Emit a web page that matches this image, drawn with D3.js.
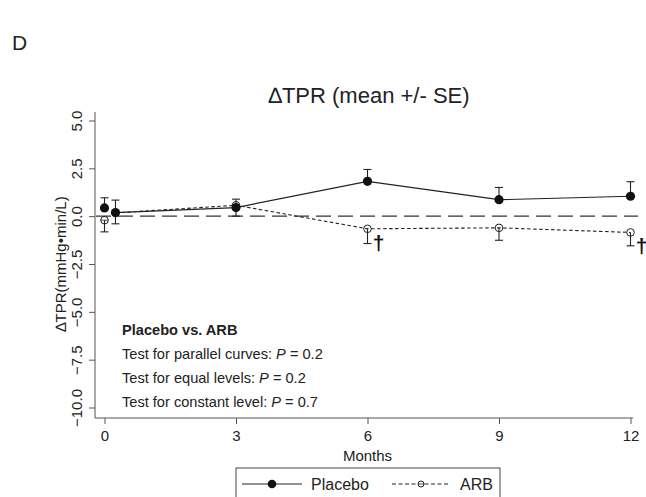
<!DOCTYPE html>
<html>
<head>
<meta charset="utf-8">
<script src="https://cdn.jsdelivr.net/npm/d3@7"></script>
<style>
  html, body { margin: 0; padding: 0; background: #fff; }
  svg { display: block; font-family: "Liberation Sans", Arial, sans-serif; }
</style>
</head>
<body>
<svg id="chart" width="646" height="497"></svg>
<script>
// Follow-up months (baseline at month 0 is drawn as separate, unconnected markers)
const months = [0.25, 3, 6, 9, 12];
const placeboMean = [0.19, 0.45, 1.82, 0.86, 1.04];
const placeboSE   = [0.65, 0.44, 0.62, 0.64, 0.76];
const arbMean     = [0.17, 0.57, -0.66, -0.61, -0.85];
const arbSE       = [0.57, 0.57, 0.77, 0.65, 0.70];
// Baseline points at month 0
const baselineMonth = 0;
const placeboBase = { mean: 0.43, se: 0.53 };
const arbBase = { mean: -0.21, se: 0.61 };
// Months flagged with a dagger (ARB)
const daggerMonths = [6, 12];
const xTicks = [0, 3, 6, 9, 12];
const yTicks = [5, 2.5, 0, -2.5, -5, -7.5, -10];
const testLines = [
  ["Test for parallel curves: ", "0.2"],
  ["Test for equal levels: ", "0.2"],
  ["Test for constant level: ", "0.7"]
];

const svg = d3.select("#chart");
const ink = "#222";
const axisCol = "#555";

const x = d3.scaleLinear().domain([0, 12]).range([104.5, 630.5]);
const y = d3.scaleLinear().domain([-10, 5]).range([407.5, 120.5]);

// Panel letter and title
svg.append("text").attr("x", 12).attr("y", 50).attr("font-size", 21).attr("fill", ink).text("D");
svg.append("text").attr("x", 369).attr("y", 103).attr("text-anchor", "middle")
  .attr("font-size", 22).attr("fill", ink).text("\u2206TPR (mean +/- SE)");

// Y axis
const yAxis = svg.append("g").attr("transform", "translate(95,0)")
  .call(d3.axisLeft(y).tickValues(yTicks).tickSize(6).tickFormat(d3.format(".1f")));
yAxis.select(".domain").attr("d", "M0,112V418").attr("stroke", axisCol);
yAxis.selectAll(".tick line").attr("stroke", axisCol);
yAxis.selectAll(".tick text")
  .attr("font-size", 15).attr("fill", ink)
  .attr("transform", "rotate(-90)").attr("x", 0).attr("y", -13)
  .attr("dy", 0).attr("text-anchor", "middle");

// X axis
const xAxis = svg.append("g").attr("transform", "translate(0,418)")
  .call(d3.axisBottom(x).tickValues(xTicks).tickSize(6).tickFormat(d3.format("d")));
xAxis.select(".domain").attr("d", "M95,0H633").attr("stroke", axisCol);
xAxis.selectAll(".tick line").attr("stroke", axisCol);
xAxis.selectAll(".tick text").attr("font-size", 15).attr("fill", ink).attr("y", 12);

svg.append("text").attr("x", x(6)).attr("y", 461).attr("text-anchor", "middle")
  .attr("font-size", 15).attr("fill", ink).text("Months");

svg.append("text")
  .attr("transform", `translate(66,${y(-2.5)}) rotate(-90)`)
  .attr("text-anchor", "middle").attr("font-size", 15).attr("fill", ink)
  .text("\u2206TPR(mmHg\u2022min/L)");

// Zero reference line
svg.append("line").attr("x1", 96).attr("x2", 638).attr("y1", y(0)).attr("y2", y(0))
  .attr("stroke", "#333").attr("stroke-width", 1.2).attr("stroke-dasharray", "15,7");

const placebo = months.map((m, i) => ({ m, v: placeboMean[i], se: placeboSE[i] }));
const arb = months.map((m, i) => ({ m, v: arbMean[i], se: arbSE[i] }));
const line = d3.line().x(d => x(d.m)).y(d => y(d.v));

// Error whiskers: placebo upward, ARB downward
function whisker(g, d, dir) {
  const y1 = y(d.v), y2 = y(d.v + dir * d.se);
  g.append("line").attr("x1", x(d.m)).attr("x2", x(d.m)).attr("y1", y1).attr("y2", y2)
    .attr("stroke", "#222").attr("stroke-width", 1.1);
  g.append("line").attr("x1", x(d.m) - 4).attr("x2", x(d.m) + 4).attr("y1", y2).attr("y2", y2)
    .attr("stroke", "#222").attr("stroke-width", 1.1);
}
const marks = svg.append("g");
[{ m: baselineMonth, v: arbBase.mean, se: arbBase.se }, ...arb].forEach(d => whisker(marks, d, -1));
[{ m: baselineMonth, v: placeboBase.mean, se: placeboBase.se }, ...placebo].forEach(d => whisker(marks, d, 1));

// ARB series
marks.append("path").datum(arb).attr("d", line).attr("fill", "none")
  .attr("stroke", "#222").attr("stroke-width", 1.1).attr("stroke-dasharray", "3.5,2.5");
marks.selectAll(".arbpt").data([{ m: baselineMonth, v: arbBase.mean }, ...arb]).enter()
  .append("circle").attr("cx", d => x(d.m)).attr("cy", d => y(d.v)).attr("r", 3.8)
  .attr("fill", "none").attr("stroke", "#222").attr("stroke-width", 1);
marks.selectAll(".arbtick").data([{ m: baselineMonth, v: arbBase.mean }]).enter()
  .append("line").attr("x1", d => x(d.m) - 3.8).attr("x2", d => x(d.m) + 3.8)
  .attr("y1", d => y(d.v)).attr("y2", d => y(d.v)).attr("stroke", "#222").attr("stroke-width", 0.8);

// Placebo series
marks.append("path").datum(placebo).attr("d", line).attr("fill", "none")
  .attr("stroke", "#222").attr("stroke-width", 1.2);
marks.selectAll(".plpt").data([{ m: baselineMonth, v: placeboBase.mean }, ...placebo]).enter()
  .append("circle").attr("cx", d => x(d.m)).attr("cy", d => y(d.v)).attr("r", 4.6)
  .attr("fill", "#111");

// Daggers
daggerMonths.forEach(m => {
  const d = arb.find(p => p.m === m);
  svg.append("text").attr("x", x(m) + 11).attr("y", y(d.v) + 21).attr("text-anchor", "middle")
    .attr("font-size", 21).attr("font-weight", "bold").attr("fill", "#111").text("\u2020");
});

// Statistical test annotations
svg.append("text").attr("x", 122).attr("y", 334.5).attr("font-size", 14.6).attr("font-weight", "bold")
  .attr("fill", ink).text("Placebo vs. ARB");
testLines.forEach((t, i) => {
  const tx = svg.append("text").attr("x", 122).attr("y", 358.5 + i * 24)
    .attr("font-size", 14.6).attr("fill", ink);
  tx.append("tspan").text(t[0]);
  tx.append("tspan").attr("font-style", "italic").text("P");
  tx.append("tspan").text(" = " + t[1]);
});

// Legend
const lg = svg.append("g");
lg.append("rect").attr("x", 236).attr("y", 468).attr("width", 264).attr("height", 40)
  .attr("fill", "#fff").attr("stroke", "#444").attr("stroke-width", 1);
const ly = 484;
lg.append("line").attr("x1", 242).attr("x2", 302).attr("y1", ly).attr("y2", ly)
  .attr("stroke", "#222").attr("stroke-width", 1.2);
lg.append("circle").attr("cx", 272).attr("cy", ly).attr("r", 4.3).attr("fill", "#111");
lg.append("text").attr("x", 311).attr("y", ly + 5.5).attr("font-size", 16).attr("fill", ink).text("Placebo");
lg.append("line").attr("x1", 392).attr("x2", 450).attr("y1", ly).attr("y2", ly)
  .attr("stroke", "#222").attr("stroke-width", 1).attr("stroke-dasharray", "4,2.5");
lg.append("circle").attr("cx", 421).attr("cy", ly).attr("r", 3).attr("fill", "#fff")
  .attr("stroke", "#222").attr("stroke-width", 1);
lg.append("line").attr("x1", 418).attr("x2", 424).attr("y1", ly).attr("y2", ly)
  .attr("stroke", "#222").attr("stroke-width", 0.8);
lg.append("text").attr("x", 460).attr("y", ly + 5.5).attr("font-size", 16).attr("fill", ink).text("ARB");
</script>
</body>
</html>
